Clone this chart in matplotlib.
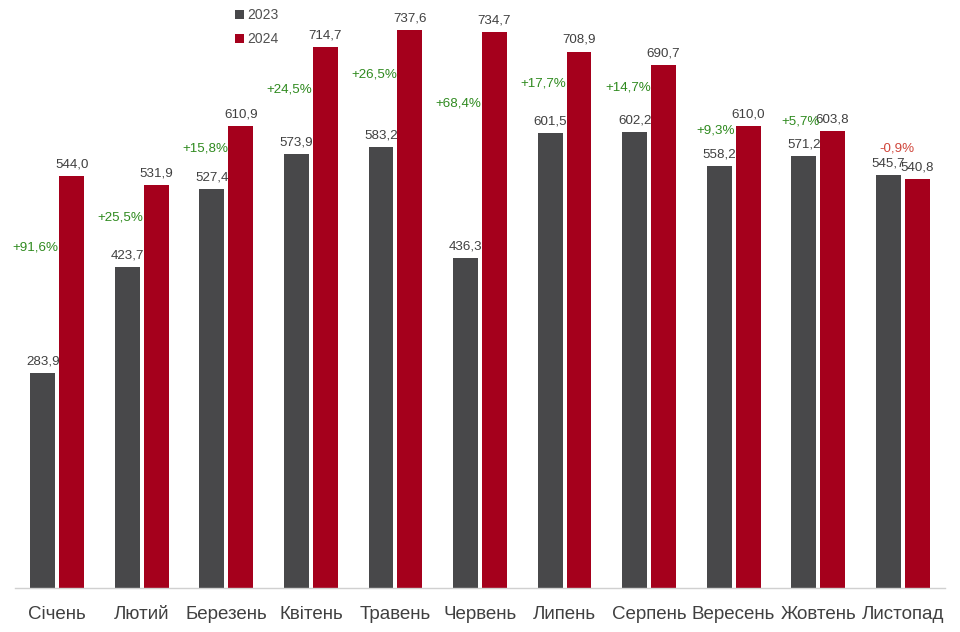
"""
Monthly comparison 2023 vs 2024
"""

import numpy as np
import matplotlib
matplotlib.use('Agg')
import matplotlib.pyplot as plt
from matplotlib import font_manager


months = ['Січень', 'Лютий', 'Березень', 'Квітень', 'Травень', 'Червень',
          'Липень', 'Серпень', 'Вересень', 'Жовтень', 'Листопад']
v2023 = [283.9, 423.7, 527.4, 573.9, 583.2, 436.3, 601.5, 602.2, 558.2, 571.2, 545.7]
v2024 = [544.0, 531.9, 610.9, 714.7, 737.6, 734.7, 708.9, 690.7, 610.0, 603.8, 540.8]
change = [91.6, 25.5, 15.8, 24.5, 26.5, 68.4, 17.7, 14.7, 9.3, 5.7, -0.9]
# where the change labels sit (value units)
change_y = [450, 490, 581, 659, 678, 640, 666, 661, 605, 616, 581]

names = [f.name for f in font_manager.fontManager.ttflist]
narrow = 'Liberation Sans Narrow' if 'Liberation Sans Narrow' in names else 'Liberation Sans'
lab_size = 11 if narrow == 'Liberation Sans Narrow' else 9.6
plt.rcParams['font.family'] = ['Liberation Sans', 'DejaVu Sans']

c23 = '#48484a'
c24 = '#a5001c'

fig = plt.figure(figsize=(9.6, 6.32), dpi=100)
ax = fig.add_axes([15 / 960, 44 / 632, 930 / 960, 588 / 632])

x = np.arange(len(months))
w = 0.295
off = 0.171
b1 = ax.bar(x - off, v2023, w, color=c23, label='2023')
b2 = ax.bar(x + off, v2024, w, color=c24, label='2024')

def fmt(v):
    return f'{v:.1f}'.replace('.', ',')

for xi, v in zip(x, v2023):
    ax.annotate(fmt(v), (xi - off, v), xytext=(0, 4), textcoords='offset points',
                ha='center', va='bottom', fontsize=lab_size, color='#404040',
                family=[narrow, 'DejaVu Sans'])
for xi, v in zip(x, v2024):
    ax.annotate(fmt(v), (xi + off, v), xytext=(0, 4), textcoords='offset points',
                ha='center', va='bottom', fontsize=lab_size, color='#404040',
                family=[narrow, 'DejaVu Sans'])

for xi, c, yy in zip(x, change, change_y):
    if c > 0:
        ax.text(xi + off - w / 2 - 0.005, yy, '+' + fmt(c) + '%', ha='right', va='center',
                fontsize=lab_size, color='#2f8a1f', family=[narrow, 'DejaVu Sans'])
    else:
        ax.text(xi - 0.07, yy, fmt(c) + '%', ha='center', va='center',
                fontsize=lab_size, color='#d0453a', family=[narrow, 'DejaVu Sans'])

ax.set_xlim(-0.5, 10.5)
ax.set_ylim(0, 777)
ax.set_xticks(x)
ax.set_xticklabels(months, fontsize=13.5, color='#404040')
ax.tick_params(axis='x', length=0, pad=13)
ax.set_yticks([])
for s in ['top', 'right', 'left']:
    ax.spines[s].set_visible(False)
ax.spines['bottom'].set_color('#d0d0d0')
ax.spines['bottom'].set_linewidth(1)

leg = fig.legend(handles=[b1, b2], loc='upper left', bbox_to_anchor=(222 / 960, 1.007),
                 frameon=False, handlelength=0.65, handleheight=0.65, handletextpad=0.3,
                 labelspacing=0.75, fontsize=10)
for t in leg.get_texts():
    t.set_color('#505050')

plt.savefig('out.png', dpi=100)
